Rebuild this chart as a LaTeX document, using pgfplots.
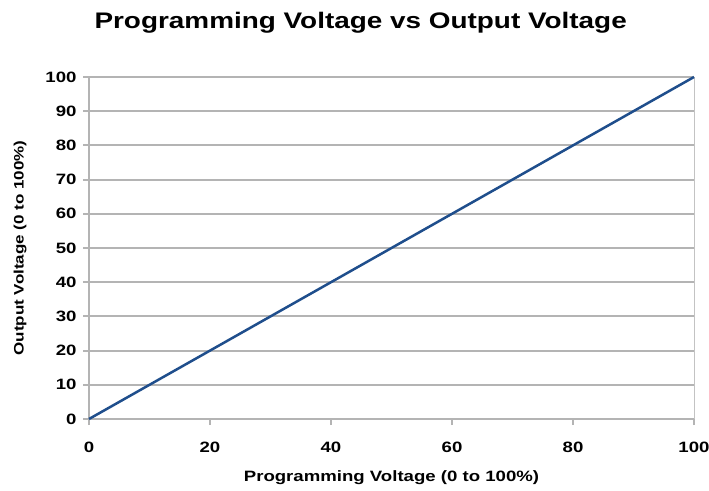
\documentclass[border=0pt]{standalone}
\usepackage{fontspec}
\setmainfont[FakeStretch=1.24]{Liberation Sans}
\usepackage{pgfplots}
\pgfplotsset{compat=1.18}
\definecolor{lineblue}{HTML}{1F4E8C}
\definecolor{gridgray}{HTML}{B4B4B4}
\begin{document}
\begin{tikzpicture}
\useasboundingbox (-89pt,-71pt) rectangle (620pt,419pt);
\begin{axis}[
  at={(0pt,0pt)}, anchor=origin,
  scale only axis, width=605pt, height=342pt,
  xmin=0, xmax=100, ymin=0, ymax=100,
  xtick={0,20,...,100}, ytick={0,10,...,100},
  axis x line*=bottom, axis y line*=left,
  axis line style={gridgray, line width=2.5pt},
  every outer x axis line/.append style={-},
  every outer y axis line/.append style={-},
  ymajorgrids, major grid style={gridgray, line width=2pt},
  tick style={gridgray, line width=2pt},
  tick align=outside, major tick length=6pt,
  /pgf/number format/assume math mode=true,
  ticklabel style={font=\bfseries\fontsize{15}{17}\selectfont},
  xticklabel style={yshift=-13pt},
  yticklabel style={xshift=-3pt},
  xlabel={\bfseries Programming Voltage (0 to 100\%)},
  ylabel={\bfseries Output Voltage (0 to 100\%)},
  xlabel style={font=\fontsize{15}{17}\selectfont, yshift=-12pt},
  ylabel style={font=\fontsize{13.7}{16}\selectfont, yshift=12pt},
  title={\bfseries Programming Voltage vs Output Voltage},
  title style={font=\fontsize{22.5}{25}\selectfont, at={(0.449,1)}, anchor=base, yshift=42pt},
  clip=false,
]
\draw[gridgray!80, line width=1pt] (axis cs:100,0) -- (axis cs:100,100);
\addplot[lineblue, line width=2.5pt] coordinates {(0,0) (100,100)};
\end{axis}
\end{tikzpicture}
\end{document}
